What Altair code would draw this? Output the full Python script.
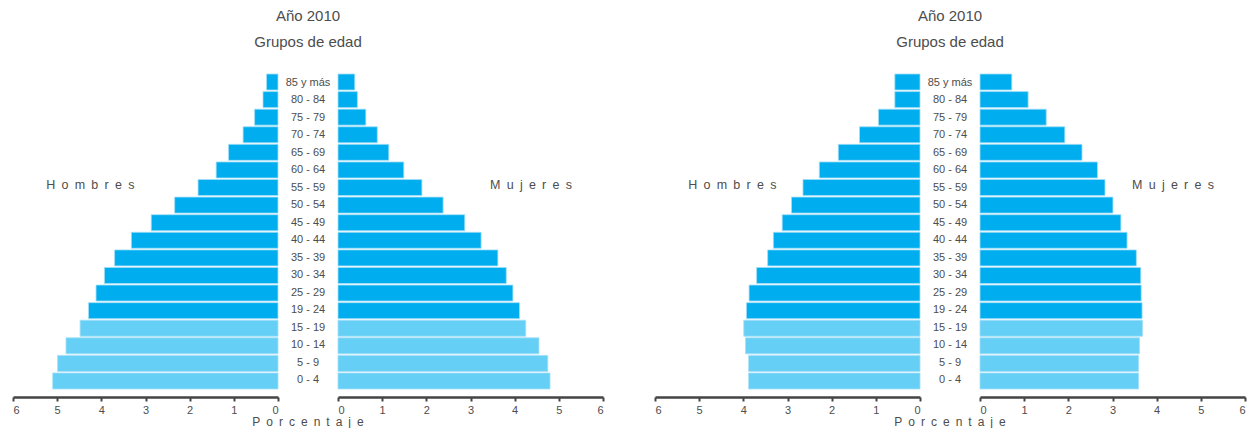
import altair as alt
import pandas as pd

ages = ["85 y más", "80 - 84", "75 - 79", "70 - 74", "65 - 69", "60 - 64",
        "55 - 59", "50 - 54", "45 - 49", "40 - 44", "35 - 39", "30 - 34",
        "25 - 29", "19 - 24", "15 - 19", "10 - 14", "5 - 9", "0 - 4"]
young_groups = ["15 - 19", "10 - 14", "5 - 9", "0 - 4"]

# Left pyramid
men_a = [0.26, 0.34, 0.53, 0.79, 1.12, 1.40, 1.81, 2.34, 2.87, 3.32, 3.70,
         3.93, 4.12, 4.29, 4.48, 4.80, 4.99, 5.10]
women_a = [0.38, 0.44, 0.63, 0.89, 1.15, 1.49, 1.90, 2.38, 2.87, 3.24, 3.62,
           3.81, 3.96, 4.11, 4.25, 4.55, 4.75, 4.80]
# Right pyramid
men_b = [0.57, 0.57, 0.94, 1.37, 1.85, 2.28, 2.65, 2.91, 3.12, 3.32, 3.45,
         3.70, 3.87, 3.93, 3.99, 3.95, 3.88, 3.88]
women_b = [0.72, 1.09, 1.50, 1.92, 2.31, 2.66, 2.83, 3.01, 3.19, 3.33, 3.54,
           3.64, 3.65, 3.67, 3.68, 3.61, 3.59, 3.59]

ticks = [0, 1, 2, 3, 4, 5, 6]
title_text = "Año 2010"
subtitle_text = "Grupos de edad"
SP = "\u2002"
men_label = SP.join("Hombres")
women_label = SP.join("Mujeres")
axis_label = SP.join("Porcentaje")

DARK = "#00aeef"
LIGHT = "#66cff5"
TEXT = "#4d4d4d"
FONT = "Liberation Sans"

W = 265
H = 315
MID = 60

yscale = alt.Scale(domain=ages, paddingInner=0.09, paddingOuter=0.0)
cscale = alt.Scale(domain=["adulto", "joven"], range=[DARK, LIGHT])


def side(df, field, reverse, label, label_x):
    bars = alt.Chart(df).mark_bar(stroke="#a3def8", strokeWidth=0.8).encode(
        x=alt.X(f"{field}:Q",
                scale=alt.Scale(domain=[0, 6], reverse=reverse, nice=False),
                axis=alt.Axis(values=ticks, title=None, offset=8, grid=False,
                              format="d")),
        y=alt.Y("age:N", scale=yscale, axis=None),
        color=alt.Color("grupo:N", scale=cscale, legend=None),
    )
    txt = alt.Chart(pd.DataFrame({"t": [label]})).mark_text(
        fontSize=12.5, color=TEXT, align="center", baseline="middle", dy=-3
    ).encode(
        x=alt.datum(label_x),
        y=alt.datum("55 - 59"),
        text="t:N",
    )
    return alt.layer(bars, txt).properties(width=W, height=H)


def panel(men, women):
    df = pd.DataFrame({
        "age": ages,
        "hombres": men,
        "mujeres": women,
        "grupo": ["joven" if a in young_groups else "adulto" for a in ages],
    })
    left = side(df, "hombres", True, men_label, 4.25)
    right = side(df, "mujeres", False, women_label, 4.37)
    mid = alt.Chart(df).mark_text(fontSize=11, color=TEXT, baseline="middle").encode(
        y=alt.Y("age:N", scale=yscale, axis=None),
        x=alt.value(MID / 2),
        text="age:N",
    ).properties(
        width=MID, height=H,
        title=alt.TitleParams(axis_label, orient="bottom", offset=28,
                              fontSize=12, fontWeight="normal", color=TEXT,
                              font=FONT),
    )
    return alt.hconcat(
        left, mid, right, spacing=0, bounds="flush",
        title=alt.TitleParams(title_text, subtitle=subtitle_text, anchor="middle",
                              fontSize=15, fontWeight="normal", color=TEXT,
                              subtitleFontSize=15, subtitleColor=TEXT,
                              subtitlePadding=11, offset=24, font=FONT,
                              subtitleFont=FONT),
    )


chart = alt.hconcat(
    panel(men_a, women_a), panel(men_b, women_b), spacing=50
).properties(
    padding={"left": 4, "right": 2, "top": 0, "bottom": 0}
).configure_view(stroke=None).configure_axis(
    domainColor="#444444", domainWidth=2.5, tickColor="#444444", tickWidth=2,
    tickSize=4, labelFontSize=11, labelColor=TEXT, labelPadding=3,
    labelFont=FONT,
).configure_text(font=FONT).configure_title(font=FONT)

chart.save("out.html", embed_options={"renderer": "svg", "actions": False})
